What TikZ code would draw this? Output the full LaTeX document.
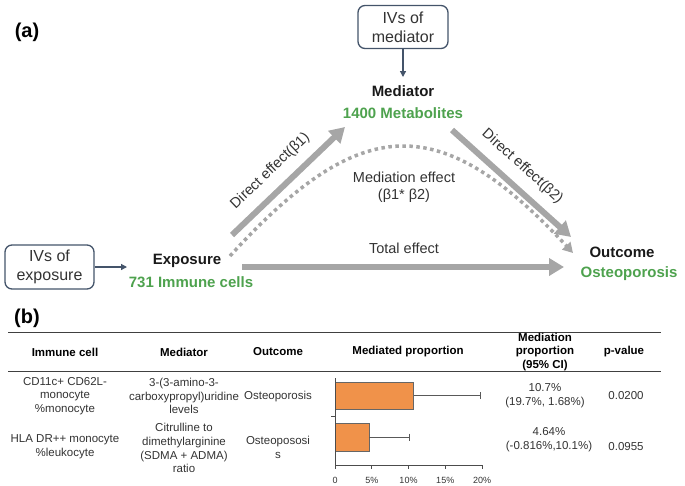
\documentclass[tikz,border=0pt]{standalone}
\usepackage{fontspec}
\setmainfont{Liberation Sans}
\usetikzlibrary{arrows.meta}
\definecolor{arrgray}{HTML}{A6A6A6}
\definecolor{grn}{HTML}{4EA24E}
\definecolor{boxc}{HTML}{44546A}
\definecolor{barc}{HTML}{F0924A}
\definecolor{txt}{HTML}{333333}
\definecolor{rulec}{HTML}{404040}
\tikzset{
  panel/.style={font=\fontsize{20}{24}\selectfont\bfseries, inner sep=0pt},
  lbl/.style={font=\fontsize{15}{17}\selectfont\bfseries, inner sep=1pt, text=black!90},
  grnlbl/.style={lbl, text=grn},
  ivbox/.style={draw=boxc, line width=1.3pt, rounded corners=7pt, align=center,
    font=\fontsize{16}{19}\selectfont, text=txt, minimum width=90pt, minimum height=43pt, inner sep=1pt},
  smallarr/.style={draw=boxc, line width=1.3pt, -{Triangle[length=6pt,width=6pt]}},
  big/.style={draw=arrgray, line width=6pt, -{Triangle[length=15pt,width=17pt]}},
  dots/.style={draw=arrgray, line width=3.5pt, dash pattern=on 3.5pt off 3.5pt,
    -{Triangle[length=10pt,width=11pt]}},
  efflbl/.style={font=\fontsize{14.5}{17}\selectfont, text=txt, inner sep=1pt},
  hdr/.style={font=\fontsize{11.5}{13.8}\selectfont\bfseries, align=center, inner sep=0pt},
  cell/.style={font=\fontsize{11.5}{13.8}\selectfont, align=center, text=txt, inner sep=0pt},
  tick/.style={font=\fontsize{9}{10}\selectfont, text=txt, inner sep=0pt},
  tabrule/.style={draw=rulec, line width=0.9pt},
}
\begin{document}
\begin{tikzpicture}[x=1pt,y=-1pt]
\useasboundingbox (0,0) rectangle (685,485);
% ---------- panel (a)
\node[panel] (pa) at (27,32) {(a)};
\node[ivbox] (ivm) at (403,27) {IVs of\\mediator};
\node[lbl] (med) at (403,91) {Mediator};
\node[grnlbl] (metab) at (403,113) {1400 Metabolites};
\coordinate (medtip) at (403,77);
\draw[smallarr] (ivm.south) -- (medtip);

\node[ivbox, minimum width=89pt, minimum height=44pt] (ive) at (49.5,267) {IVs of\\exposure};
\node[lbl] (expo) at (187,261) {Exposure};
\node[grnlbl] (immune) at (191,282) {731 Immune cells};
\coordinate (expotip) at (127,267);
\draw[smallarr] (ive.east) -- (expotip);

\node[lbl] (outc) at (622,252) {Outcome};
\node[grnlbl] (osteo) at (629,274) {Osteoporosis};

\coordinate (b1s) at (232,235);
\coordinate (b1e) at (345,127);
\coordinate (b2s) at (452,130);
\coordinate (b2e) at (571,237);
\coordinate (ts) at (242,267);
\coordinate (te) at (564,267);
\coordinate (ds) at (230,256);
\coordinate (de) at (573,253);

\draw[dots] (ds) .. controls (362,111) and (441,111) .. (de);
\draw[big] (b1s) -- node[efflbl, sloped, pos=0.46, above=9pt] (l1) {Direct effect(β1)} (b1e);
\draw[big] (b2s) -- node[efflbl, sloped, pos=0.48, above=9pt] (l2) {Direct effect(β2)} (b2e);
\draw[big] (ts) -- (te);
\node[efflbl] (ltot) at (404,248) {Total effect};
\node[efflbl, align=center, font=\fontsize{14.5}{17}\selectfont] (lmed) at (404,187) {Mediation effect\\(β1* β2)};

% ---------- panel (b)
\node[panel] (pb) at (27,318) {(b)};
\draw[tabrule] (8,332) -- (661,332);
\draw[tabrule] (8,371) -- (661,371);
\node[hdr] (h1) at (65,352) {Immune cell};
\node[hdr] (h2) at (184,352) {Mediator};
\node[hdr] (h3) at (278,352) {Outcome};
\node[hdr] (h4) at (408,352) {Mediated proportion};
\node[hdr] (h5) at (545,352) {Mediation\\proportion\\(95\% CI)};
\node[hdr] (h6) at (624,352) {p-value};

\node[cell] (r1a) at (65,396) {CD11c+ CD62L-\\monocyte\\\%monocyte};
\node[cell] (r1b) at (184,396) {3-(3-amino-3-\\carboxypropyl)uridine\\levels};
\node[cell] (r1c) at (278,397) {Osteoporosis};
\node[cell] (r1d) at (545,396) {10.7\%\\(19.7\%, 1.68\%)};
\node[cell] (r1e) at (626,396) {0.0200};

\node[cell] (r2a) at (65,447) {HLA DR++ monocyte\\\%leukocyte};
\node[cell] (r2b) at (184,448) {Citrulline to\\dimethylarginine\\(SDMA + ADMA)\\ratio};
\node[cell] (r2c) at (278,447) {Osteopososi\\s};
\node[cell] (r2d) at (549,440) {4.64\%\\(-0.816\%,10.1\%)};
\node[cell] (r2e) at (626,447) {0.0955};

% bar chart (7.35pt per %)
\draw[fill=barc, draw=gray!80!black, line width=0.6pt] (335,382) rectangle (413.6,409);
\draw[fill=barc, draw=gray!80!black, line width=0.6pt] (335,423) rectangle (369.1,451);
\draw[gray!70!black, line width=0.6pt] (413.6,395.5) -- (479.8,395.5) (479.8,392) -- (479.8,399);
\draw[gray!70!black, line width=0.6pt] (369.1,437) -- (409.2,437) (409.2,433.5) -- (409.2,440.5);
\draw[gray!60!black, line width=0.8pt] (335,378) -- (335,465) -- (482,465);
\draw[gray!60!black, line width=0.6pt] (331,416) -- (335,416);
\foreach \v/\t in {0/0,5/5\%,10/10\%,15/15\%,20/20\%}{
  \draw[gray!60!black, line width=0.6pt] ({335+7.35*\v},465) -- ({335+7.35*\v},469);
  \node[tick] at ({335+7.35*\v},480) {\t};
}
\end{tikzpicture}
\end{document}
